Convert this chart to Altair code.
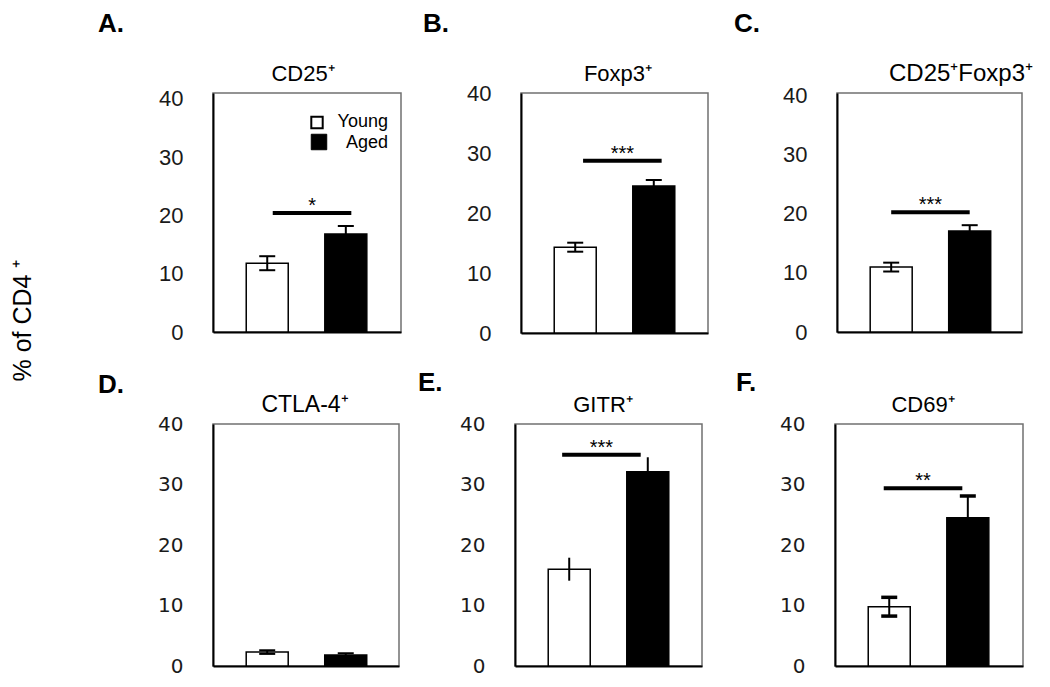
import altair as alt
import pandas as pd

# ---------------- data ----------------
groups = ["Young", "Aged"]
group_pos = [0, 1]
panel_letters = ["A.", "B.", "C.", "D.", "E.", "F."]
panel_titles = ["CD25⁺", "Foxp3⁺", "CD25⁺Foxp3⁺", "CTLA-4⁺", "GITR⁺", "CD69⁺"]
young_mean = [11.8, 14.3, 11.0, 2.3, 16.0, 9.8]
young_err = [1.2, 0.75, 0.75, 0.3, 1.9, 1.55]
aged_mean = [16.8, 24.5, 17.1, 1.8, 32.1, 24.5]
aged_err = [1.4, 1.0, 1.0, 0.3, 2.4, 3.6]
sig_value = [20.4, 28.7, 20.3, None, 34.9, 29.4]
sig_label = ["*", "***", "***", "", "***", "**"]
y_max = [41, 40, 40.5, 40, 40, 40]
y_ticks = [0, 10, 20, 30, 40]
y_title = "% of CD4 ⁺"

# ---------------- layout / style ----------------
TOP_FONT = "Liberation Sans"
BOT_FONT = "DejaVu Sans"
layout = [
    dict(w=188, h=239, tf=TOP_FONT, ts=22, title_x=90, tsz=22, lx=-115, ly=-61, caps=True, cw=2, shift=0.07),
    dict(w=187, h=240, tf=TOP_FONT, ts=22, title_x=97, tsz=22, lx=-98, ly=-61, caps=True, cw=2, shift=0.10),
    dict(w=185, h=239, tf=TOP_FONT, ts=22, title_x=124, tsz=24, lx=-103, ly=-61, caps=True, cw=2, shift=0.0),
    dict(w=186, h=242, tf=BOT_FONT, ts=20, title_x=92, tsz=23, lx=-115, ly=-31, caps=True, cw=2, shift=0.0),
    dict(w=187, h=242, tf=BOT_FONT, ts=20, title_x=88, tsz=22, lx=-97, ly=-33, caps=False, cw=2, shift=-0.09),
    dict(w=188, h=242, tf=BOT_FONT, ts=20, title_x=88, tsz=22, lx=-99, ly=-33, caps=True, cw=3.5, shift=-0.07),
]
STEP, C0 = 83.0, 52.0


def panel(i):
    L = layout[i]
    w, h = L["w"], L["h"]
    xs = alt.Scale(domain=[-C0 / STEP, (w - C0) / STEP], nice=False, zero=False)
    ys = alt.Scale(domain=[0, y_max[i]], nice=False, zero=True)
    xax = alt.Axis(title=None, labels=False, ticks=False, grid=False,
                   domainColor="black", domainWidth=2)
    yax = alt.Axis(title=None, values=y_ticks, ticks=False, grid=False,
                   domainColor="black", domainWidth=2, labelFont=L["tf"],
                   labelFontSize=L["ts"], labelColor="#1a1a1a", labelPadding=30)
    df = pd.DataFrame({
        "group": groups,
        "pos": group_pos,
        "mean": [young_mean[i], aged_mean[i]],
        "lo": [young_mean[i] - young_err[i], aged_mean[i] - aged_err[i]],
        "hi": [young_mean[i] + young_err[i], aged_mean[i] + aged_err[i]],
        "fill": ["white", "black"],
    })
    base = alt.Chart(df)
    X = alt.X("pos:Q", scale=xs, axis=xax)
    bars = base.mark_bar(size=42, stroke="black", strokeWidth=1.5, opacity=1).encode(
        x=X, y=alt.Y("mean:Q", scale=ys, axis=yax), fill=alt.Fill("fill:N", scale=None))
    err = base.mark_rule(color="black", strokeWidth=2, opacity=1).encode(
        x=X, y=alt.Y("lo:Q", scale=ys, axis=yax), y2="hi:Q")
    layers = [bars, err]
    if L["caps"]:
        caps = base.transform_fold(["lo", "hi"], as_=["end", "yv"]).mark_tick(
            orient="horizontal", size=16, thickness=L["cw"], color="black", opacity=1
        ).encode(x=X, y=alt.Y("yv:Q", scale=ys, axis=yax))
        layers.append(caps)
    if sig_value[i] is not None:
        s = L["shift"]
        sdf = pd.DataFrame({"sx": [group_pos[0] + s, group_pos[1] + s],
                            "sy": [sig_value[i], sig_value[i]]})
        sig = alt.Chart(sdf).mark_line(color="black", strokeWidth=4, strokeCap="butt").encode(
            x=alt.X("sx:Q", scale=xs, axis=xax), y=alt.Y("sy:Q", scale=ys, axis=yax))
        tdf = pd.DataFrame({"tx": [(group_pos[0] + group_pos[1]) / 2 + s],
                            "ty": [sig_value[i]], "t": [sig_label[i]]})
        star = alt.Chart(tdf).mark_text(font=TOP_FONT, fontSize=20, baseline="alphabetic",
                                        align="center", dy=-1, color="black").encode(
            x=alt.X("tx:Q", scale=xs, axis=xax), y=alt.Y("ty:Q", scale=ys, axis=yax), text="t:N")
        layers += [sig, star]
    ttl = alt.Chart(pd.DataFrame({"t": [panel_titles[i]]})).mark_text(
        font=TOP_FONT, fontSize=L["tsz"], align="center", baseline="alphabetic", color="black"
    ).encode(x=alt.value(L["title_x"]), y=alt.value(-12), text="t:N")
    let = alt.Chart(pd.DataFrame({"t": [panel_letters[i]]})).mark_text(
        font=TOP_FONT, fontSize=26, fontWeight="bold", align="left", baseline="alphabetic",
        color="black"
    ).encode(x=alt.value(L["lx"]), y=alt.value(L["ly"]), text="t:N")
    layers += [ttl, let]
    if i == 0:
        ldf = pd.DataFrame({"g": groups})
        sq_w = alt.Chart(ldf).transform_filter(alt.datum.g == groups[0]).mark_square(
            size=130, fill="white", stroke="black", strokeWidth=2, opacity=1, filled=True
        ).encode(x=alt.value(104), y=alt.value(29.5))
        sq_b = alt.Chart(ldf).transform_filter(alt.datum.g == groups[1]).mark_square(
            size=240, fill="black", stroke="black", strokeWidth=1, opacity=1, filled=True
        ).encode(x=alt.value(106), y=alt.value(49))
        lab_w = alt.Chart(ldf).transform_filter(alt.datum.g == groups[0]).mark_text(
            font=TOP_FONT, fontSize=18, align="right", baseline="middle", color="black"
        ).encode(x=alt.value(175), y=alt.value(29), text="g:N")
        lab_b = alt.Chart(ldf).transform_filter(alt.datum.g == groups[1]).mark_text(
            font=TOP_FONT, fontSize=18, align="right", baseline="middle", color="black"
        ).encode(x=alt.value(175), y=alt.value(50), text="g:N")
        layers += [sq_w, sq_b, lab_w, lab_b]
    return alt.layer(*layers).properties(width=w, height=h)


pA, pB, pC, pD, pE, pF = [panel(i) for i in range(6)]

row1 = alt.hconcat(alt.hconcat(pA, pB, spacing=120, bounds="flush"), pC, spacing=24)
row2 = alt.hconcat(alt.hconcat(pD, pE, spacing=116, bounds="flush"), pF, spacing=32)

chart = alt.vconcat(row1, row2, spacing=24).properties(
    title=alt.TitleParams(text=y_title, orient="left", anchor="middle", fontSize=25,
                          font=TOP_FONT, fontWeight="normal", color="black",
                          offset=61, dx=23),
    padding={"left": 3, "top": 2, "right": 5, "bottom": 5},
).configure_view(stroke="#707070", strokeWidth=1.5)

chart.save("out.html", embed_options={"renderer": "svg", "actions": False})
